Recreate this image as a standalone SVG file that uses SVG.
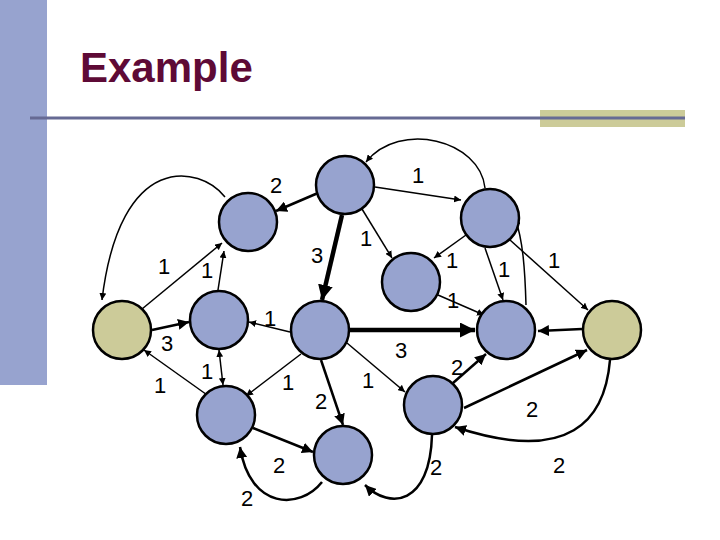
<svg xmlns="http://www.w3.org/2000/svg" width="720" height="540" viewBox="0 0 720 540">
<defs>
<style>
.n{fill:#97a3cf;stroke:#000;stroke-width:2.5}
.t{fill:#cccb99;stroke:#000;stroke-width:2.5}
.e{fill:none;stroke:#000;stroke-width:1.5}
.m{fill:none;stroke:#000;stroke-width:2.5}
.k{fill:none;stroke:#000;stroke-width:4.5}
.l{font-family:"Liberation Sans",Arial,sans-serif;font-size:22px;fill:#000}
</style>
<marker id="a" viewBox="0 0 10 10" refX="10" refY="5" markerWidth="7" markerHeight="7" markerUnits="userSpaceOnUse" orient="auto-start-reverse"><path d="M0,0L10,5L0,10z"/></marker>
<marker id="b" viewBox="0 0 10 10" refX="10" refY="5" markerWidth="11" markerHeight="11" markerUnits="userSpaceOnUse" orient="auto"><path d="M0,0L10,5L0,10z"/></marker>
<marker id="c" viewBox="0 0 10 10" refX="10" refY="5" markerWidth="15" markerHeight="15" markerUnits="userSpaceOnUse" orient="auto"><path d="M0,0L10,5L0,10z"/></marker>
</defs>
<rect x="0" y="0" width="47" height="385" fill="#97a3cf"/>
<rect x="540" y="110" width="145" height="17" fill="#cccb99"/>
<line x1="30" y1="118" x2="685" y2="118" stroke="#666a94" stroke-width="3"/>
<text x="80" y="82" font-family="Liberation Sans,Arial,sans-serif" font-size="42" font-weight="bold" fill="#5e0a36">Example</text>
<g id="connectors">
<line class="m" x1="318" y1="193" x2="276" y2="211" marker-end="url(#b)"/>
<line class="k" x1="342" y1="215" x2="322" y2="300" marker-end="url(#c)"/>
<line class="e" x1="362" y1="209" x2="392" y2="258" marker-end="url(#a)"/>
<line class="e" x1="375" y1="187" x2="461" y2="200" marker-end="url(#a)"/>
<path class="e" d="M485,188 C480,140 400,120 366,162" marker-end="url(#a)"/>
<path class="e" d="M225,197 C200,165 120,150 102,300" marker-end="url(#a)"/>
<line class="e" x1="142" y1="309" x2="222" y2="243" marker-end="url(#a)"/>
<line class="e" x1="218" y1="290" x2="224" y2="251" marker-end="url(#a)"/>
<line class="m" x1="152" y1="330" x2="189" y2="322" marker-end="url(#b)"/>
<line class="e" x1="290" y1="332" x2="249" y2="322" marker-end="url(#a)"/>
<line class="e" x1="210" y1="397" x2="144" y2="350" marker-end="url(#a)"/>
<line class="e" x1="219" y1="350" x2="223" y2="385" marker-start="url(#a)" marker-end="url(#a)"/>
<line class="e" x1="301" y1="354" x2="246" y2="396" marker-end="url(#a)"/>
<line class="m" x1="321" y1="360" x2="343" y2="425" marker-end="url(#b)"/>
<line class="m" x1="253" y1="428" x2="313" y2="452" marker-end="url(#b)"/>
<path class="m" d="M322,482 C300,510 250,510 240,447" marker-end="url(#b)"/>
<path class="m" d="M432,435 C430,505 390,510 365,485" marker-end="url(#b)"/>
<line class="k" x1="350" y1="330" x2="475" y2="330" marker-end="url(#c)"/>
<line class="e" x1="347" y1="343" x2="405" y2="392" marker-end="url(#a)"/>
<line class="e" x1="466" y1="235" x2="434" y2="258" marker-end="url(#a)"/>
<line class="e" x1="438" y1="295" x2="484" y2="315" marker-end="url(#a)"/>
<line class="e" x1="485" y1="248" x2="503" y2="300" marker-end="url(#a)"/>
<path class="e" d="M526,305 C525,270 523,240 515,218" marker-end="url(#a)"/>
<line class="e" x1="510" y1="240" x2="588" y2="310" marker-end="url(#a)"/>
<line class="m" x1="582" y1="329" x2="538" y2="331" marker-end="url(#b)"/>
<line class="m" x1="453" y1="383" x2="486" y2="354" marker-end="url(#b)"/>
<line class="m" x1="464" y1="408" x2="587" y2="350" marker-end="url(#b)"/>
<path class="m" d="M610,360 C605,420 570,465 455,427" marker-end="url(#b)"/>
</g>
<g id="labels">
<text class="l" x="270" y="193">2</text>
<text class="l" x="311" y="263">3</text>
<text class="l" x="360" y="246">1</text>
<text class="l" x="412" y="183">1</text>
<text class="l" x="158" y="274">1</text>
<text class="l" x="201" y="278">1</text>
<text class="l" x="161" y="351">3</text>
<text class="l" x="264" y="326">1</text>
<text class="l" x="154" y="393">1</text>
<text class="l" x="201" y="379">1</text>
<text class="l" x="282" y="390">1</text>
<text class="l" x="315" y="409">2</text>
<text class="l" x="273" y="473">2</text>
<text class="l" x="241" y="506">2</text>
<text class="l" x="430" y="475">2</text>
<text class="l" x="395" y="358">3</text>
<text class="l" x="362" y="388">1</text>
<text class="l" x="446" y="268">1</text>
<text class="l" x="447" y="308">1</text>
<text class="l" x="498" y="277">1</text>
<text class="l" x="548" y="268">1</text>
<text class="l" x="451" y="375">2</text>
<text class="l" x="526" y="417">2</text>
<text class="l" x="553" y="473">2</text>
</g>
<g id="nA"><circle class="n" cx="345" cy="185" r="29"/></g>
<g id="nB"><circle class="n" cx="248" cy="222" r="29"/></g>
<g id="nC"><circle class="t" cx="122" cy="330" r="29"/></g>
<g id="nD"><circle class="n" cx="219" cy="320" r="29"/></g>
<g id="nE"><circle class="n" cx="320" cy="330" r="29"/></g>
<g id="nF"><circle class="n" cx="226" cy="415" r="29"/></g>
<g id="nG"><circle class="n" cx="343" cy="455" r="29"/></g>
<g id="nH"><circle class="n" cx="490" cy="218" r="29"/></g>
<g id="nI"><circle class="n" cx="411" cy="282" r="29"/></g>
<g id="nJ"><circle class="n" cx="506" cy="330" r="29"/></g>
<g id="nK"><circle class="t" cx="612" cy="330" r="29"/></g>
<g id="nL"><circle class="n" cx="433" cy="405" r="29"/></g>
</svg>
